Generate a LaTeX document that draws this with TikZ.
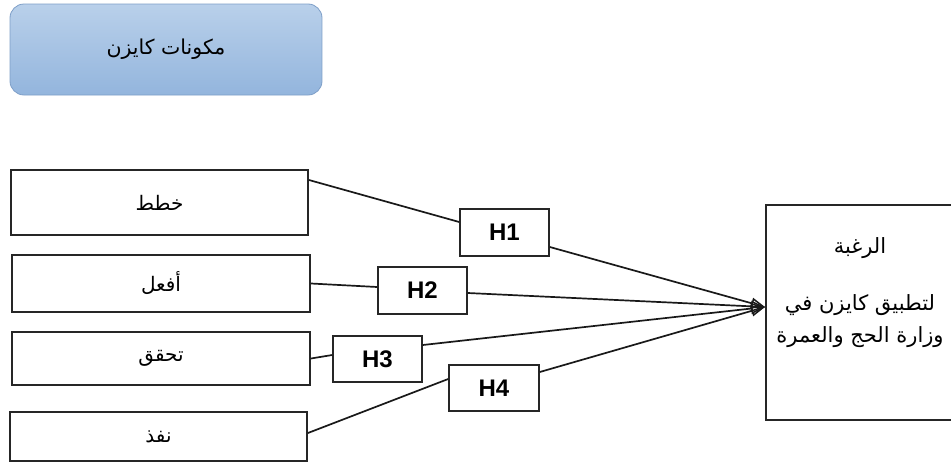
\documentclass[tikz,border=0pt]{standalone}
\usepackage{fontspec}
\setmainfont{Liberation Sans}
\newfontfamily\arabicfont[Script=Arabic]{DejaVu Sans}
\TeXXeTstate=1
\usetikzlibrary{arrows.meta,calc}
\definecolor{topA}{HTML}{B9D0EA}
\definecolor{topB}{HTML}{93B5DD}
\definecolor{topBorder}{HTML}{7E9FC8}
\begin{document}
\begin{tikzpicture}[x=1pt,y=-1pt,
  box/.style={draw=black!85, line width=1.9pt, rectangle, inner sep=0pt, font=\arabicfont\fontsize{20}{22}\selectfont},
  hbox/.style={draw=black!85, line width=1.6pt, rectangle, inner sep=0pt, minimum width=89pt, minimum height=46pt, font=\bfseries\fontsize{24}{26}\selectfont},
  rtext/.style={inner sep=0pt, font=\arabicfont\fontsize{21}{24}\selectfont},
  conn/.style={line width=1.7pt, black!90},
  arr/.style={conn, -{Triangle[open, length=14pt, width=11pt, line width=1.5pt]}}
]
\useasboundingbox (0,0) rectangle (951,466);
\fill[white] (0,0) rectangle (951,466);

\node[rectangle, rounded corners=14pt, draw=topBorder, line width=0.8pt,
  top color=topA, bottom color=topB, minimum width=312pt, minimum height=91pt,
  font=\arabicfont\fontsize{20.5}{22}\selectfont] (top) at (166,49.5) {\beginR مكونات كايزن\endR};

\node[box, minimum width=297pt, minimum height=65pt] (b1) at (159.5,202.5) {\beginR خطط\endR};
\node[box, minimum width=298pt, minimum height=57pt] (b2) at (161,283.5) {\beginR أفعل\endR};
\node[box, minimum width=298pt, minimum height=53pt] (b3) at (161,358.5) {\beginR تحقق\endR};
\node[box, minimum width=297pt, minimum height=49pt] (b4) at (158.5,436.5) {\beginR نفذ\endR};

\node[hbox, minimum height=47pt] (h1) at (504.5,232.5) {H1};
\node[hbox, minimum height=47pt] (h2) at (422.5,290.5) {H2};
\node[hbox] (h3) at (377.5,359) {H3};
\node[hbox, minimum width=90pt] (h4) at (494,388) {H4};

\node[draw=black!85, line width=1.9pt, rectangle, minimum width=190pt, minimum height=215pt] (R) at (861,312.5) {};
\node[rtext] (Rt1) at ($(R.center)+(-1,-64.5)$) {\beginR الرغبة\endR};
\node[rtext] (Rt2) at ($(R.center)+(-1,-7.5)$) {\beginR لتطبيق كايزن في\endR};
\node[rtext] (Rt3) at ($(R.center)+(-1,24.5)$) {\beginR وزارة الحج والعمرة\endR};

\coordinate (tip) at ([yshift=5.5pt]R.west);

\draw[conn] ([yshift=22.5pt]b1.east) -- ([yshift=10.5pt]h1.west);
\draw[arr] ([yshift=-14.5pt]h1.east) -- (tip);
\draw[conn] (b2.east) -- ([yshift=3.5pt]h2.west);
\draw[arr] ([yshift=-2.5pt]h2.east) -- (tip);
\draw[conn] (b3.east) -- ([yshift=4pt]h3.west);
\draw[arr] ([yshift=14pt]h3.east) -- (tip);
\draw[conn] ([yshift=3.5pt]b4.east) -- ([yshift=9pt]h4.west);
\draw[arr] ([yshift=16pt]h4.east) -- (tip);
\end{tikzpicture}
\end{document}
